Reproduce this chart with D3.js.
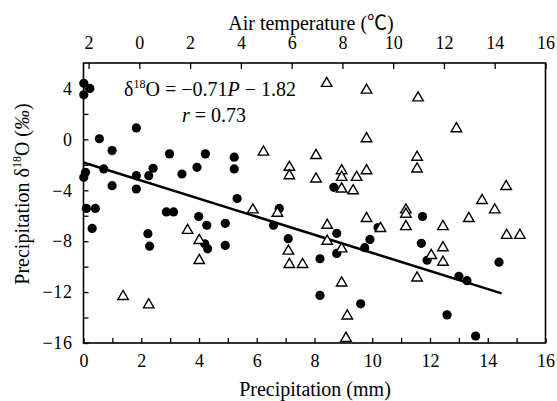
<!DOCTYPE html>
<html>
<head>
<meta charset="utf-8">
<script src="https://cdn.jsdelivr.net/npm/d3@7"></script>
<style>
  html, body { margin: 0; padding: 0; background: #fff; }
  svg { display: block; }
  text { font-family: "Liberation Serif", "Times New Roman", serif; fill: #000; }
</style>
</head>
<body>
<svg id="chart" width="557" height="401"></svg>
<script>
// Daily precipitation amount (mm) vs. precipitation δ18O (‰)
const precipAmount = [0.01, 0.22, 0.01, 1.83, 0.55, 0.99, 2.98, 4.22, 5.22, 5.22, 3.93, 3.41, 2.41, 2.26, 1.83, 0.70, 0.07, 0.01, 0.99, 1.83, 5.32, 0.10, 0.41, 0.30, 2.87, 3.12, 3.99, 4.27, 4.91, 2.23, 2.29, 4.20, 4.30, 4.91, 8.67, 6.78, 6.58, 7.09, 8.19, 8.77, 8.77, 8.19, 9.60, 10.20, 9.92, 9.74, 11.74, 11.70, 11.90, 13.00, 13.28, 14.39, 12.59, 13.58];
const precipD18O   = [4.4, 4.0, 3.5, 0.9, 0.05, -0.88, -1.14, -1.14, -1.4, -2.32, -2.2, -2.72, -2.27, -2.85, -2.85, -2.32, -2.59, -2.98, -3.64, -3.9, -4.65, -5.43, -5.43, -7.0, -5.7, -5.7, -6.06, -6.75, -6.6, -7.41, -8.39, -8.2, -8.6, -8.33, -3.77, -5.43, -6.75, -7.8, -9.38, -7.38, -8.96, -12.26, -12.92, -6.93, -7.86, -8.51, -6.06, -8.17, -9.5, -10.76, -11.1, -9.65, -13.79, -15.45];

// Air temperature (℃) vs. precipitation δ18O (‰)
const airTemp  = [7.38, 8.95, 10.98, 12.49, 8.95, 10.94, 10.94, 4.89, 6.96, 5.91, 5.91, 6.96, 7.97, 7.97, 8.56, 8.95, 7.97, 8.42, 14.45, 13.5, 14.0, 12.98, 10.5, 10.5, 10.5, 9.5, 11.96, 14.47, 14.99, 11.96, 11.5, 11.96, 10.94, 4.47, 5.44, 5.87, 5.91, 6.43, 7.4, 7.4, 7.97, 7.97, 8.19, 8.14, 8.95, 1.90, 2.36, 2.36, -0.64, 0.37];
const tempD18O = [4.4, 3.87, 3.26, 0.84, 0.05, -1.4, -2.32, -1.0, -1.27, -2.19, -2.85, -3.11, -2.46, -2.98, -2.98, -2.46, -3.9, -4.04, -3.7, -4.8, -5.54, -6.22, -5.54, -5.88, -6.85, -7.0, -6.85, -7.54, -7.54, -8.51, -9.12, -9.65, -10.89, -5.54, -5.8, -8.78, -9.83, -9.83, -6.75, -8.0, -8.6, -11.28, -13.87, -15.63, -6.22, -7.15, -7.94, -9.52, -12.34, -13.0];

// Fitted relation δ18O = slope·P + intercept, drawn over the observed P range
const fitSlope = -0.71;
const fitIntercept = -1.82;
const fitRange = [0, 14.48];

// Axis ticks
const xMinorTicks = d3.range(0, 17, 1);
const yTicks = [-16, -12, -8, -4, 0, 4];
const yMinorTicks = d3.range(-16, 5, 2);
const tempTicks = d3.range(-2, 17, 2);
const tempTickLabels = ["2", "0", "2", "4", "6", "8", "10", "12", "14", "16"];

const svg = d3.select("#chart");
const plotLeft = 83.5, plotRight = 545.5, plotTop = 63, plotBottom = 343;

const x = d3.scaleLinear().domain([0, 16]).range([plotLeft, plotRight]);
const xTemp = d3.scaleLinear().domain([-2.2, 16]).range([plotLeft, plotRight]);
const y = d3.scaleLinear().domain([-16, 6]).range([plotBottom, plotTop]);

const fmt = v => (v < 0 ? "\u2212" + Math.abs(v) : String(v));

// Bottom axis: precipitation, minor ticks every 1 mm, inward
const gx = svg.append("g").attr("transform", `translate(0,${plotBottom})`)
  .call(d3.axisBottom(x).tickValues(xMinorTicks).tickSizeInner(-5).tickSizeOuter(0)
    .tickFormat(d => (d % 2 === 0 ? fmt(d) : "")).tickPadding(11));

// Left axis: δ18O, minor ticks every 2 ‰, inward
const gy = svg.append("g").attr("transform", `translate(${plotLeft},0)`)
  .call(d3.axisLeft(y).tickValues(yMinorTicks).tickSizeInner(-5).tickSizeOuter(0)
    .tickFormat(d => (yTicks.includes(d) ? fmt(d) : "")).tickPadding(11));

// Top axis: air temperature, inward
const gt = svg.append("g").attr("transform", `translate(0,${plotTop})`)
  .call(d3.axisTop(xTemp).tickValues(tempTicks).tickSizeInner(-6).tickSizeOuter(0)
    .tickFormat((d, i) => tempTickLabels[i]).tickPadding(14));

[gx, gy, gt].forEach(g => {
  g.select(".domain").remove();
  g.selectAll(".tick line").attr("stroke", "#000").attr("stroke-width", 1.3);
  g.selectAll("text").attr("font-family", "Liberation Serif, serif")
    .attr("font-size", 18).attr("fill", "#000");
});
gy.selectAll("text").attr("letter-spacing", 0.6);

// Plot frame
svg.append("rect")
  .attr("x", plotLeft).attr("y", plotTop)
  .attr("width", plotRight - plotLeft).attr("height", plotBottom - plotTop)
  .attr("fill", "none").attr("stroke", "#000").attr("stroke-width", 1.6);

// Regression line
svg.append("line")
  .attr("x1", x(fitRange[0])).attr("y1", y(fitSlope * fitRange[0] + fitIntercept))
  .attr("x2", x(fitRange[1])).attr("y2", y(fitSlope * fitRange[1] + fitIntercept))
  .attr("stroke", "#000").attr("stroke-width", 2.6);

// Precipitation amount points (filled circles)
svg.append("g").selectAll("circle")
  .data(precipAmount.map((p, i) => [p, precipD18O[i]]))
  .join("circle")
  .attr("cx", d => x(d[0])).attr("cy", d => y(d[1]))
  .attr("r", 4.6).attr("fill", "#000");

// Air temperature points (open triangles)
const tri = d3.symbol().type(d3.symbolTriangle).size(48);
svg.append("g").selectAll("path")
  .data(airTemp.map((t, i) => [t, tempD18O[i]]))
  .join("path")
  .attr("d", tri)
  .attr("transform", d => `translate(${xTemp(d[0])},${y(d[1])})`)
  .attr("fill", "#fff").attr("stroke", "#000").attr("stroke-width", 1.4);

// Axis titles
svg.append("text")
  .attr("x", 315).attr("y", 396)
  .attr("text-anchor", "middle").attr("font-size", 20)
  .text("Precipitation (mm)");

const tTitle = svg.append("text")
  .attr("x", 311).attr("y", 30)
  .attr("text-anchor", "middle").attr("font-size", 20);
tTitle.append("tspan").text("Air temperature (");
tTitle.append("tspan").style("font-family", "'Noto Sans CJK SC', sans-serif")
  .attr("font-size", 20).text("\u2103");
tTitle.append("tspan").text(")");

const yTitle = svg.append("text")
  .attr("transform", "translate(29,194) rotate(-90)")
  .attr("text-anchor", "middle").attr("font-size", 20);
yTitle.append("tspan").text("Precipitation \u03b4");
yTitle.append("tspan").attr("font-size", 12).attr("dy", -8).text("18");
yTitle.append("tspan").attr("dy", 8).text("O (");
yTitle.append("tspan").attr("font-style", "italic").text("\u2030");
yTitle.append("tspan").text(")");

// Regression equation and correlation
const eq = svg.append("text").attr("x", 124).attr("y", 96).attr("font-size", 20);
eq.append("tspan").text("\u03b4");
eq.append("tspan").attr("font-size", 12).attr("dy", -8).text("18");
eq.append("tspan").attr("dy", 8).text("O = \u2212" + Math.abs(fitSlope).toFixed(2));
eq.append("tspan").attr("font-style", "italic").text("P");
eq.append("tspan").text(" \u2212 " + Math.abs(fitIntercept).toFixed(2));

const rt = svg.append("text").attr("x", 246).attr("y", 122).attr("text-anchor", "end").attr("font-size", 20);
rt.append("tspan").attr("font-style", "italic").text("r");
rt.append("tspan").text(" = 0.73");
</script>
</body>
</html>
